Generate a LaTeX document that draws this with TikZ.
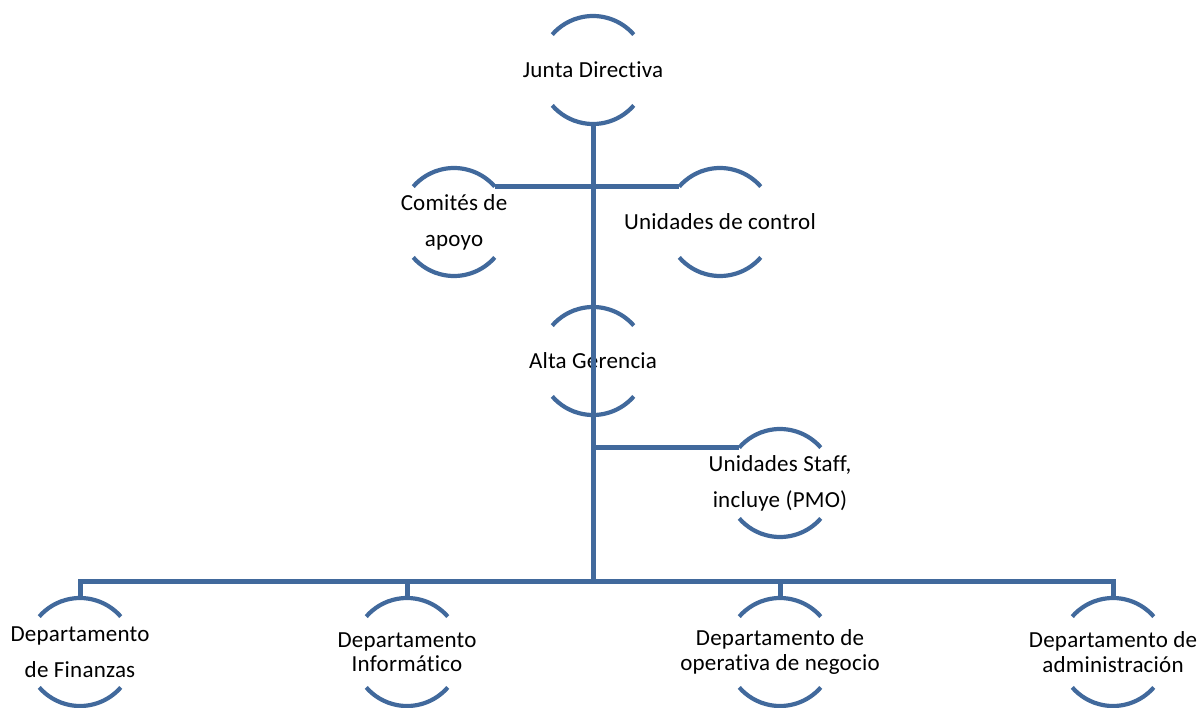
\documentclass[tikz,border=0pt]{standalone}
\usepackage{fontspec}
\setmainfont{Carlito}[Ligatures=NoCommon, LetterSpace=1]
\definecolor{orgline}{HTML}{41699C}
\begin{document}
\begin{tikzpicture}[x=1pt,y=-1pt,
  arcline/.style={draw=orgline, line width=4.2pt},
  link/.style={draw=orgline, line width=5pt},
  nodetext/.style={align=center, inner sep=0pt, font=\fontsize{23}{36}\selectfont},
  tighttext/.style={font=\fontsize{23}{24.5}\selectfont}]
\useasboundingbox (0,0) rectangle (1201,708);

% unit labels (centres of the bracket circles)
\node[nodetext] (jd) at (593,70) {Junta Directiva};
\node[nodetext] (ca) at (454,222) {Comités de\\apoyo};
\node[nodetext] (uc) at (720,222) {Unidades de control};
\node[nodetext] (ag) at (593,361) {Alta Gerencia};
\node[nodetext] (us) at (780,483) {Unidades Staff,\\incluye (PMO)};
\node[nodetext] (df) at (80,652) {Departamento\\de Finanzas};
\node[nodetext,tighttext] (di) at (407,652) {Departamento\\Informático};
\node[nodetext,tighttext] (dop) at (780,652) {Departamento de\\operativa de negocio};
\node[nodetext,tighttext] (da) at (1113,652) {Departamento de\\administración};

% upper and lower brackets around every unit
\foreach \n in {jd,ca,uc,ag,us,df,di,dop,da} {
  \draw[arcline] ([shift={(41:54pt)}]\n.center) arc[start angle=41, end angle=139, radius=54pt];
  \draw[arcline] ([shift={(-41:54pt)}]\n.center) arc[start angle=-41, end angle=-139, radius=54pt];
}

% junction points
\coordinate (hub) at (593,581);
\coordinate (usL) at ([shift={(139:54pt)}]us.center);

% main trunk
\draw[link] ([yshift=-54pt]jd.center) -- (ag.center) -- (hub);
% support committees and control units
\draw[link] ([shift={(41:54pt)}]ca.center) -- ([shift={(139:54pt)}]uc.center);
% staff units
\draw[link] (ag.center |- usL) -- (usL);
% departments
\foreach \d in {df,di,dop,da}
  \draw[link] (hub) -| ([yshift=54pt]\d.center);
\end{tikzpicture}
\end{document}
